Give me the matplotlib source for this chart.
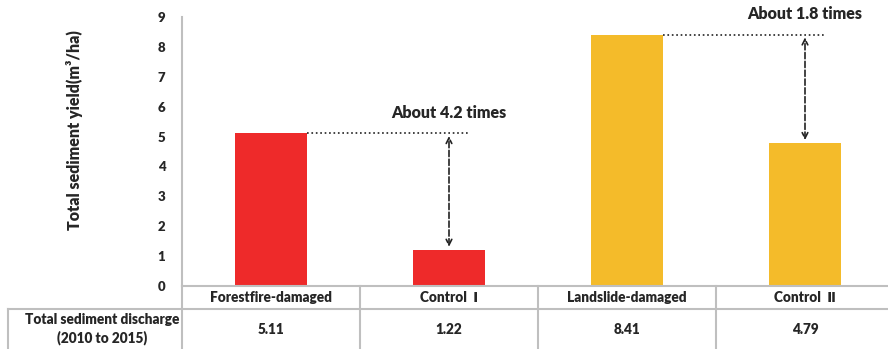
import matplotlib
matplotlib.use('Agg')
import matplotlib.pyplot as plt
from matplotlib.lines import Line2D
from matplotlib.transforms import blended_transform_factory

plt.rcParams['font.family'] = ['Lato', 'DejaVu Sans']
plt.rcParams['font.weight'] = 'heavy'

categories = ['Forestfire-damaged', 'Control  Ⅰ', 'Landslide-damaged', 'Control  Ⅱ']
values = [5.11, 1.22, 8.41, 4.79]
value_labels = ['5.11', '1.22', '8.41', '4.79']
colors = ['#EE2A2A', '#EE2A2A', '#F4BB2A', '#F4BB2A']
row_label = 'Total sediment discharge\n(2010 to 2015)'
ratio_text = ['About 4.2 times', 'About 1.8 times']

W, H = 888, 349
fig = plt.figure(figsize=(W / 100, H / 100), dpi=100)
ax = fig.add_axes([182 / W, (H - 286) / H, (W - 182) / W, 269 / H])

x = list(range(len(categories)))
ax.bar(x, values, width=0.4, color=colors)
ax.set_xlim(-0.5, -0.5 + (W - 182) / 178)
ax.set_ylim(0, 9)
ax.set_yticks(range(10))
ax.set_xticks([])
ax.tick_params(axis='y', length=0, pad=12, labelsize=9.5, labelcolor='#262626')
for s in ['top', 'right']:
    ax.spines[s].set_visible(False)
for s in ['left', 'bottom']:
    ax.spines[s].set_color('#BFBFBF')
    ax.spines[s].set_linewidth(1.5)
ax.set_ylabel('Total sediment yield(m³/ha)', fontsize=11.5, fontweight='heavy',
              color='#262626')
ax.yaxis.set_label_coords((83 - 182) / 706, (286 - 130) / 269)

# comparison annotations
for i, (hi, lo) in enumerate([(0, 1), (2, 3)]):
    ax.plot([hi + 0.2, lo + 0.12], [values[hi], values[hi]], ls=':', color='#222222', lw=1.2)
    ax.annotate('', xy=(lo, values[hi]), xytext=(lo, values[lo]),
                arrowprops=dict(arrowstyle='<->', ls='--', color='#222222', lw=1.2))
    ax.text(lo, values[hi] + 0.68, ratio_text[i], ha='center', va='center', fontsize=11.5,
            color='#262626', clip_on=False)

# table below
bt = blended_transform_factory(ax.transData, fig.transFigure)
ft = fig.transFigure
gc = '#BFBFBF'
def fy(p):
    return (H - p) / H
fig.add_artist(Line2D([8 / W, 1], [fy(309), fy(309)], transform=ft, color=gc, lw=1.5))
fig.add_artist(Line2D([182 / W, 182 / W], [fy(286), 0], transform=ft, color=gc, lw=1.5))
fig.add_artist(Line2D([8 / W, 8 / W], [fy(309), 0], transform=ft, color=gc, lw=1.5))
for b in [0.5, 1.5, 2.5]:
    fig.add_artist(Line2D([b, b], [fy(286), 0], transform=bt, color=gc, lw=1.5))
for i in x:
    fig.text(i, fy(297.5), categories[i], transform=bt, ha='center', va='center',
             fontsize=9.8, color='#262626')
    fig.text(i, fy(329), value_labels[i], transform=bt, ha='center', va='center',
             fontsize=9.8, color='#262626')
fig.text(102 / W, fy(329), row_label, ha='center', va='center', fontsize=9.8,
         color='#262626', linespacing=1.3)

fig.savefig('out.png', dpi=100)
